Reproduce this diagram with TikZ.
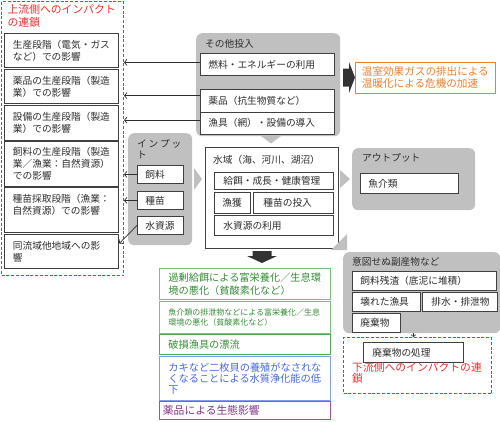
\documentclass[tikz,border=0pt]{standalone}
\usepackage{fontspec}
\setmainfont{Noto Sans CJK JP}
\usetikzlibrary{arrows.meta,calc}
\definecolor{gr}{RGB}{192,192,192}
\definecolor{bd}{RGB}{64,64,64}
\definecolor{tx}{RGB}{45,45,45}
\definecolor{blk}{RGB}{50,50,50}
\definecolor{rd}{RGB}{238,45,45}
\definecolor{org}{RGB}{242,125,45}
\definecolor{grb}{RGB}{120,195,120}
\definecolor{grb2}{RGB}{80,170,80}
\definecolor{grt}{RGB}{55,140,55}
\definecolor{blb}{RGB}{125,155,245}
\definecolor{blt}{RGB}{70,105,230}
\definecolor{pub}{RGB}{165,80,165}
\definecolor{put}{RGB}{135,50,135}
\tikzset{
  fbase/.style={font=\fontsize{9.7}{12}\selectfont},
  base/.style={fbase, inner ysep=0pt, text=tx, align=left, anchor=north west},
  wb/.style={base, draw=bd, fill=white, line width=0.8pt},
  gb/.style={fill=gr, rounded corners=6pt, anchor=north west, inner sep=0pt},
  ttl/.style={fbase, text=tx, inner sep=0pt, anchor=base west},
  arr/.style={draw=tx, line width=0.7pt, -{Straight Barb[length=2.5pt,width=6pt]}},
  arrs/.style={draw=tx, line width=0.6pt, -{Straight Barb[length=2pt,width=5pt]}},
  rdash/.style={color=rd, draw=rd, line width=1pt, dash pattern=on 3pt off 1.8pt, anchor=north west, inner sep=0pt},
  gbox/.style={base, draw=grb, fill=white, line width=0.8pt, text=grt, font=\fontsize{10.2}{13.3}\selectfont, minimum width=171pt, text width=153pt, inner xsep=9pt},
}
\begin{document}
\begin{tikzpicture}[x=1pt,y=-1pt]
\useasboundingbox (0,0) rectangle (500,421);

% ---------- upstream chain ----------
\node[rdash, minimum width=122pt, minimum height=274pt] (up) at (1,1) {};
\node[base, inner sep=0pt, text=rd, font=\fontsize{10.8}{13}\selectfont] (upt) at (7.5,4.6) {上流側へのインパクト\\の連鎖};

\node[wb, text width=97pt, inner xsep=8.5pt, minimum height=34pt] (u1) at (4,33) {生産段階（電気・ガス\\など）での影響};
\node[wb, text width=97pt, inner xsep=8.5pt, minimum height=34pt] (u2) at (4,69) {薬品の生産段階（製造\\業）での影響};
\node[wb, text width=97pt, inner xsep=8.5pt, minimum height=35pt] (u3) at (4,105) {設備の生産段階（製造\\業）での影響};
\node[wb, text width=97pt, inner xsep=8.5pt, minimum height=45pt] (u4) at (4,141) {飼料の生産段階（製造\\業／漁業：自然資源）\\での影響};
\node[wb, inner sep=0pt, minimum width=114pt, minimum height=45pt] (u5) at (4,187) {};
\node[base, inner sep=0pt] (u5t) at (12.5,194.2) {種苗採取段階（漁業：\\自然資源）での影響};
\node[wb, text width=97pt, inner xsep=8.5pt, minimum height=34pt] (u6) at (4,234) {同流域他地域への影\\響};

% ---------- other inputs ----------
\node[gb, minimum width=144pt, minimum height=103pt] (oi) at (196,33) {};
\node[ttl] (oit) at (205,47.7) {その他投入};
\node[wb, text width=118pt, inner xsep=8pt, minimum height=22pt] (oi1) at (200,53) {燃料・エネルギーの利用};
\node[wb, text width=118pt, inner xsep=8pt, minimum height=22.5pt] (oi2) at (200,89) {薬品（抗生物質など）};
\node[wb, text width=118pt, inner xsep=8pt, minimum height=22.5pt] (oi3) at (200,111.5) {漁具（網）・設備の導入};

\coordinate (a1) at ($(oi1.west)+(0,-2)$);
\coordinate (a2) at ($(oi2.west)+(0,-5)$);
\coordinate (a3) at ($(oi3.west)+(0,-3)$);
\draw[arr] (a1) -- (a1 -| up.east);
\draw[arr] (a2) -- (a2 -| up.east);
\draw[arr] (a3) -- (a3 -| up.east);

\fill[gr] (261,136) -- (281,136) -- (271,143.5) -- cycle;

% ---------- warming ----------
\fill[blk] (343,68.5) -- (349,68.5) -- (349,62) -- (355,77.5) -- (349,93) -- (349,86.5) -- (343,86.5) -- cycle;
\node[base, draw=org, fill=white, line width=0.8pt, text=org, font=\fontsize{10.6}{12}\selectfont, minimum height=31pt, text width=127pt, inner xsep=6.5pt] (warm) at (355,62) {温室効果ガスの排出による\\温暖化による危機の加速};

% ---------- input ----------
\node[gb, minimum width=64pt, minimum height=112pt] (inp) at (128,133) {};
\node[base, inner sep=0pt, font=\fontsize{9.7}{11}\selectfont] (inpt) at (137,139.6) {イ\hspace{1.8pt}ン\hspace{1.8pt}プ\hspace{1.8pt}ッ\\ト};
\node[wb, text width=30pt, inner xsep=8pt, minimum height=18pt] (in1) at (137,165) {飼料};
\node[wb, text width=30pt, inner xsep=8pt, minimum height=18pt] (in2) at (137,191) {種苗};
\node[wb, text width=30pt, inner xsep=8pt, minimum height=18pt] (in3) at (137,216) {水資源};

\draw[arr] (in1.west) -- (in1.west -| up.east);
\draw[arr] (in2.west) -- (in2.west -| up.east);
\draw[arr] (in3.west) -- ($(u6.north east)+(0.5,9.5)$);

\fill[gr] (194,168) -- (202,179) -- (194,190) -- cycle;

% ---------- water body ----------
\node[wb, inner sep=0pt, minimum width=133pt, minimum height=101pt] (wat) at (205,147) {};
\node[ttl] (watt) at (213,163.6) {水域（海、河川、湖沼）};
\node[wb, text width=101pt, inner xsep=9pt, minimum height=17pt] (w1) at (214,172) {給餌・成長・健康管理};
\node[wb, text width=20pt, inner xsep=8pt, minimum height=21pt] (w2) at (214,192) {漁獲};
\node[wb, text width=60pt, inner xsep=10pt, minimum height=21pt] (w3) at (253,192) {種苗の投入};
\node[wb, text width=101pt, inner xsep=9pt, minimum height=20pt] (w4) at (214,215) {水資源の利用};

\fill[blk] (252.5,251) -- (271.5,251) -- (271.5,256) -- (277,256) -- (262,263) -- (247,256) -- (252.5,256) -- cycle;

% ---------- output ----------
\fill[gr] (340,170) -- (350,179) -- (340,188) -- cycle;
\node[gb, minimum width=123pt, minimum height=62pt] (out) at (352,148) {};
\node[ttl] (outt) at (362,161.7) {アウトプット};
\node[wb, text width=82pt, inner xsep=8pt, minimum height=20pt] (o1) at (360,173) {魚介類};

% ---------- by-products ----------
\fill[gr] (331,250) -- (347,234) -- (347,250) -- cycle;
\node[gb, minimum width=157pt, minimum height=81pt] (by) at (343,252) {};
\node[ttl] (byt) at (352,265.7) {意図せぬ副産物など};
\node[wb, text width=128pt, inner xsep=8pt, minimum height=19pt] (b1) at (352,271) {飼料残渣（底泥に堆積）};
\node[wb, text width=52pt, inner xsep=8pt, minimum height=19pt] (b2) at (352,292) {壊れた漁具};
\node[wb, text width=57pt, inner xsep=9pt, minimum height=19pt] (b3) at (422,292) {排水・排泄物};
\node[wb, text width=32pt, inner xsep=8pt, minimum height=19pt] (b4) at (352,313) {廃棄物};

% ---------- downstream ----------
\node[rdash, minimum width=148pt, minimum height=56pt] (dn) at (343,337) {};
\node[wb, text width=82pt, inner xsep=9pt, minimum height=20pt] (proc) at (363,342) {廃棄物の処理};
\node[base, inner sep=0pt, text=rd, font=\fontsize{10.8}{11}\selectfont] (dnt) at (352,362.3) {下流側へのインパクトの連\\鎖};
\draw[arrs] (proc.north |- by.south) -- (proc.north |- dn.north);

% ---------- impacts ----------
\node[gbox, minimum height=31pt] (g1) at (159,268) {過剰給餌による富栄養化／生息環\\境の悪化（貧酸素化など）};
\node[gbox, minimum height=32pt, font=\fontsize{8}{10}\selectfont] (g2) at (159,301) {魚介類の排泄物などによる富栄養化／生息\\環境の悪化（貧酸素化など）};
\node[gbox, draw=grb2, minimum height=20pt] (g3) at (159,334) {破損漁具の漂流};
\node[gbox, draw=blb, text=blt, font=\fontsize{10.2}{11.2}\selectfont, minimum height=44pt] (bl) at (159,356) {カキなど二枚貝の養殖がなされな\\くなることによる水質浄化能の低\\下};
\node[gbox, draw=pub, text=put, font=\fontsize{10.8}{12}\selectfont, minimum height=18pt, text width=164pt, inner xsep=3.5pt] (pu) at (159,401) {薬品による生態影響};
\end{tikzpicture}
\end{document}
